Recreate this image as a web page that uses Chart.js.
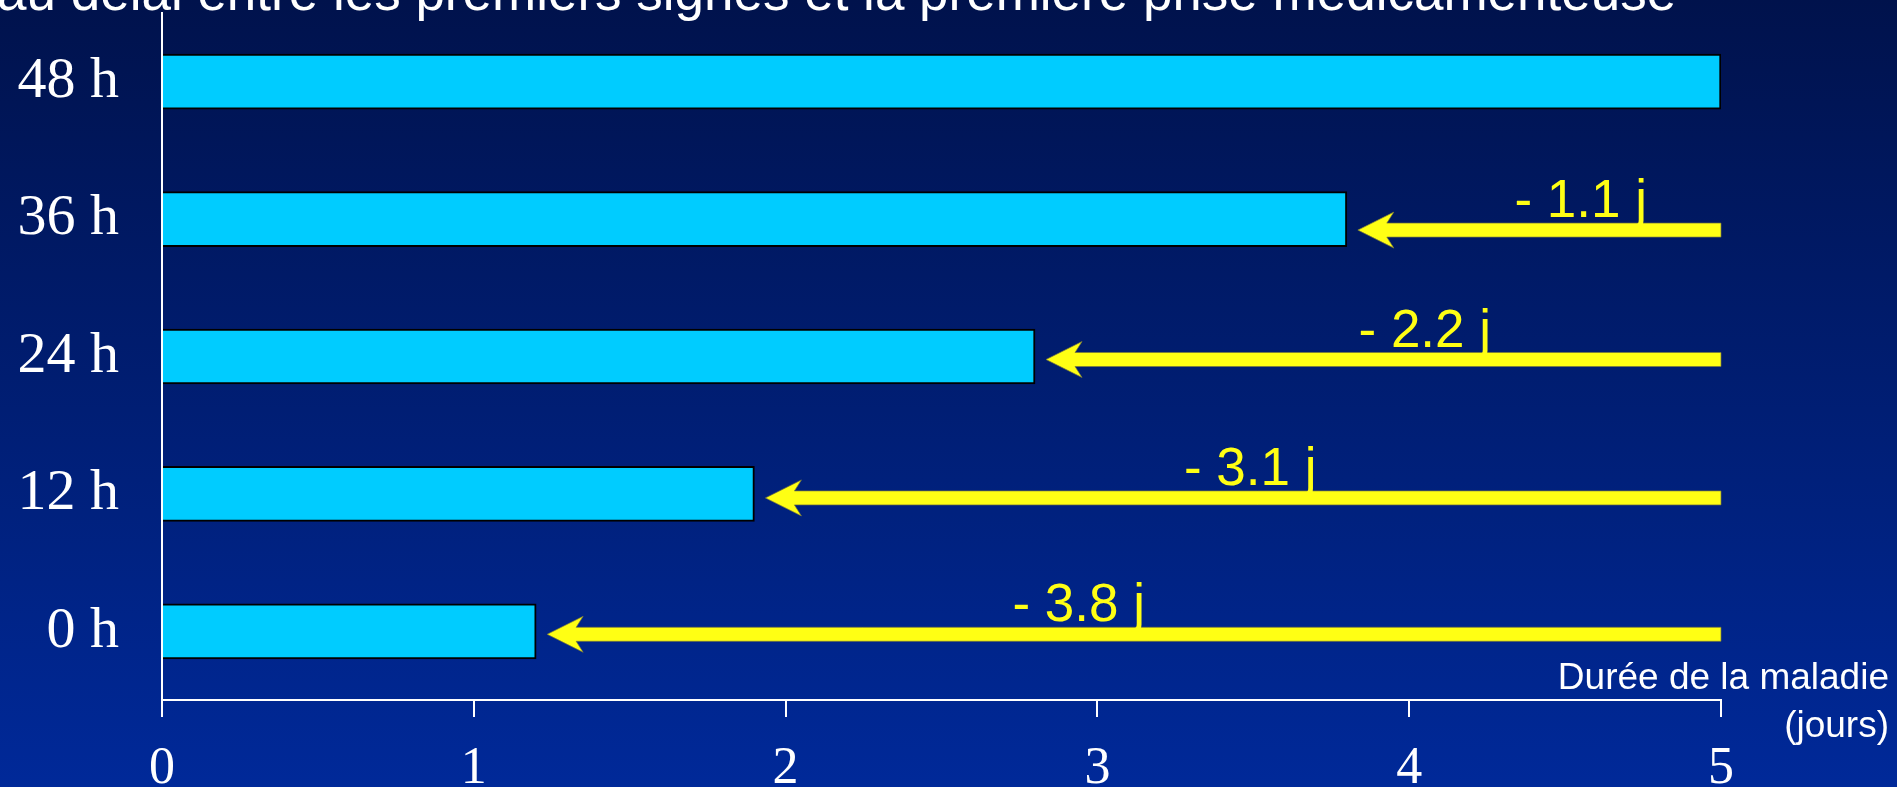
<!DOCTYPE html>
<html>
<head>
<meta charset="utf-8">
<script src="https://cdn.jsdelivr.net/npm/chart.js@4.4.0/dist/chart.umd.min.js"></script>
<style>
  html, body { margin: 0; padding: 0; }
  body {
    width: 1897px; height: 787px; overflow: hidden;
    background: linear-gradient(to bottom, #00124c 0%, #002999 100%);
  }
</style>
</head>
<body>
<canvas id="grafico" width="1897" height="787"></canvas>
<script>
const delais = ['48 h', '36 h', '24 h', '12 h', '0 h'];
const dureeJours = [5, 3.8, 2.8, 1.9, 1.2];
const gainJours = [null, 1.1, 2.2, 3.1, 3.8];
const graduations = [0, 1, 2, 3, 4, 5];
const titre = 'au délai entre les premiers signes et la première prise médicamenteuse';
const titreAxe = ['Durée de la maladie', '(jours)'];

// placement des étiquettes "- x j" (en jours) et petit décalage vertical des flèches
const posEtiquette = [null, 4.55, 4.05, 3.49, 2.94];
const decalFleche = [0, 11, 3, 4, 3];

const jaune = '#ffff14';

function dessinerFleche(ctx, pointe, fin, yc) {
    const demi = 7, tete = 36, creux = 29, aile = 18;
    ctx.beginPath();
    ctx.moveTo(pointe, yc);
    ctx.lineTo(pointe + tete, yc - aile);
    ctx.lineTo(pointe + creux, yc - demi);
    ctx.lineTo(fin, yc - demi);
    ctx.lineTo(fin, yc + demi);
    ctx.lineTo(pointe + creux, yc + demi);
    ctx.lineTo(pointe + tete, yc + aile);
    ctx.closePath();
    ctx.fillStyle = jaune;
    ctx.fill();
    ctx.lineWidth = 1;
    ctx.strokeStyle = 'rgba(120,120,60,0.7)';
    ctx.stroke();
}

const fleches = {
    id: 'fleches',
    afterDatasetsDraw(chart) {
        const ctx = chart.ctx;
        const x = chart.scales.x, y = chart.scales.y;
        const fin = x.getPixelForValue(dureeJours[0]);
        ctx.save();
        for (let i = 1; i < delais.length; i++) {
            const yc = y.getPixelForValue(i) + decalFleche[i];
            const pointe = x.getPixelForValue(dureeJours[i]) + 11;
            dessinerFleche(ctx, pointe, fin, yc);
            ctx.fillStyle = jaune;
            ctx.font = '53px "Liberation Sans", Arial, sans-serif';
            ctx.textAlign = 'center';
            ctx.textBaseline = 'alphabetic';
            ctx.fillText('- ' + gainJours[i].toFixed(1) + ' j', x.getPixelForValue(posEtiquette[i]), yc - 13);
        }
        ctx.restore();
    },
    afterDraw(chart) {
        const ctx = chart.ctx;
        ctx.save();
        ctx.fillStyle = '#ffffff';
        // titre coupé en haut de la diapo
        ctx.font = '53px "Liberation Sans", Arial, sans-serif';
        ctx.textAlign = 'left';
        ctx.textBaseline = 'alphabetic';
        ctx.fillText(titre, -3, 10);
        // titre de l'axe des x, aligné à droite
        ctx.font = '37px "Liberation Sans", Arial, sans-serif';
        ctx.textAlign = 'right';
        ctx.fillText(titreAxe[0], 1889, 689);
        ctx.fillText(titreAxe[1], 1889, 737);
        ctx.restore();
    }
};

new Chart(document.getElementById('grafico'), {
    type: 'bar',
    data: {
        labels: delais,
        datasets: [{
            data: dureeJours,
            backgroundColor: '#00ccff',
            borderColor: '#000000',
            borderWidth: 2,
            barThickness: 55
        }]
    },
    options: {
        indexAxis: 'y',
        responsive: false,
        animation: false,
        layout: { padding: { top: 13, right: 176, left: 0, bottom: 0 } },
        plugins: {
            legend: { display: false },
            tooltip: { enabled: false }
        },
        scales: {
            x: {
                min: graduations[0],
                max: graduations[graduations.length - 1],
                afterFit(scale) { scale.height = 87; },
                afterBuildTicks(scale) { scale.ticks = graduations.map(v => ({ value: v })); },
                ticks: {
                    color: '#ffffff',
                    font: { family: '"Liberation Serif", "Times New Roman", serif', size: 52 },
                    padding: 21
                },
                grid: { drawOnChartArea: false, color: '#ffffff', lineWidth: 2, tickLength: 17 },
                border: { color: '#ffffff', width: 2 }
            },
            y: {
                afterFit(scale) {
                    scale.width = 162;
                    scale.paddingTop = 0;
                    scale.paddingBottom = 0;
                },
                ticks: {
                    color: '#ffffff',
                    font: { family: '"Liberation Serif", "Times New Roman", serif', size: 58 },
                    padding: 43
                },
                grid: { display: false, drawTicks: false },
                border: { color: '#ffffff', width: 2 }
            }
        }
    },
    plugins: [fleches]
});
</script>
</body>
</html>
